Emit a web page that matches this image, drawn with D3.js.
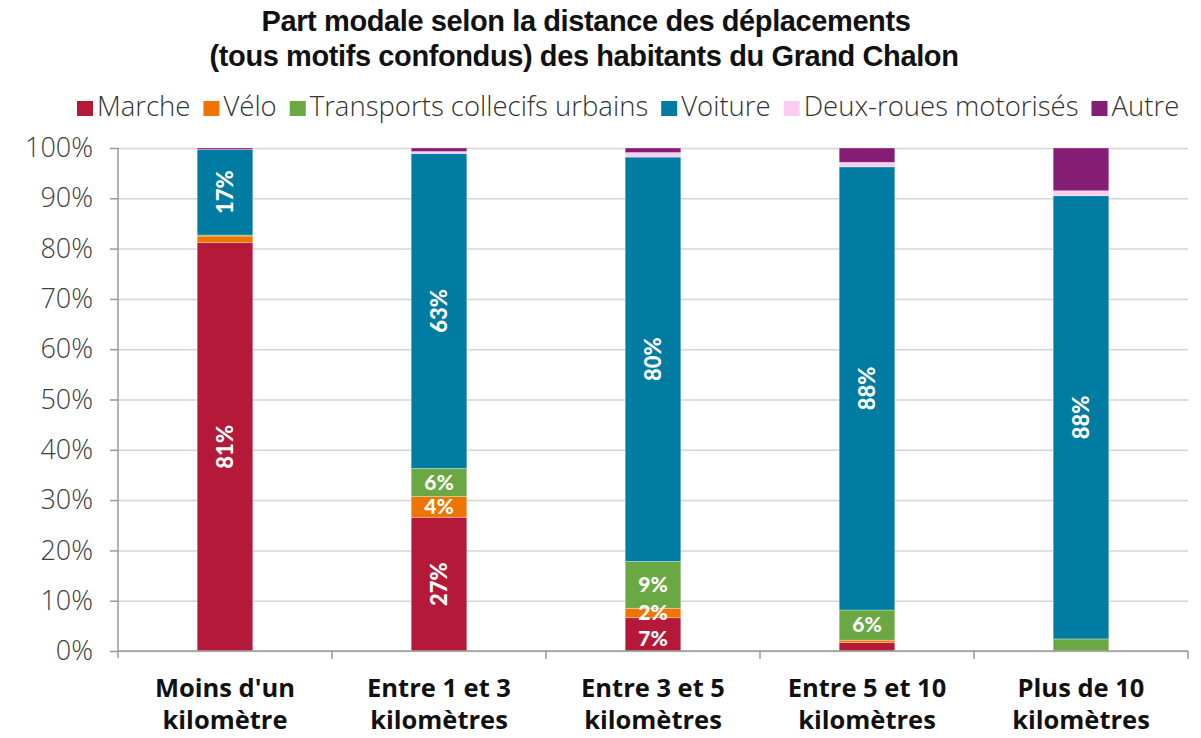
<!DOCTYPE html>
<html>
<head>
<meta charset="utf-8">
<script src="https://cdn.jsdelivr.net/npm/d3@7"></script>
<style>
  body { margin: 0; background: #fff; }
  svg { display: block; }
  .title { font-family: "Liberation Sans", sans-serif; font-weight: bold; font-size: 29px; fill: #111; letter-spacing: -0.4px; }
  .legend text { font-family: "Open Sans", sans-serif; font-weight: 300; font-size: 27.5px; fill: #333; }
  .y.axis text { font-family: "Open Sans", sans-serif; font-size: 27px; fill: #404040; font-weight: 300; }
  .cat { font-family: "Open Sans", sans-serif; font-weight: bold; font-size: 25.5px; fill: #111; }
  .val { font-family: "Lato", sans-serif; font-weight: 900; font-size: 22px; fill: #fff; }
  .val.small { font-size: 21px; }
</style>
</head>
<body>
<svg width="1201" height="738"></svg>
<script>
// categories (distance classes), each on two lines
var categories = ["Moins d'un kilomètre", "Entre 1 et 3 kilomètres", "Entre 3 et 5 kilomètres",
                  "Entre 5 et 10 kilomètres", "Plus de 10 kilomètres"];
var catLines = [["Moins d'un", "kilomètre"], ["Entre 1 et 3", "kilomètres"], ["Entre 3 et 5", "kilomètres"],
                ["Entre 5 et 10", "kilomètres"], ["Plus de 10", "kilomètres"]];

var seriesNames = ["Marche", "Vélo", "Transports collecifs urbains", "Voiture", "Deux-roues motorisés", "Autre"];
var colors = ["#b5193a", "#f07400", "#6aa843", "#007ba1", "#f9cdf2", "#851c75"];

// shares in %
var marche    = [81.2, 26.6, 6.6, 1.65, 0];
var velo      = [1.3, 4.1, 1.9, 0.5, 0];
var tc        = [0.2, 5.6, 9.3, 6.0, 2.4];
var voiture   = [17.0, 62.6, 80.4, 88.1, 88.1];
var deuxRoues = [0, 0.4, 0.9, 0.9, 1.0];
var autre     = [0.3, 0.7, 0.9, 2.85, 8.5];

// data labels as shown on the chart ("" = no label)
var lblMarche  = ["81%", "27%", "7%", "", ""];
var lblVelo    = ["", "4%", "2%", "", ""];
var lblTc      = ["", "6%", "9%", "6%", ""];
var lblVoiture = ["17%", "63%", "80%", "88%", "88%"];

var yTicks = [0, 10, 20, 30, 40, 50, 60, 70, 80, 90, 100];

var allValues = [marche, velo, tc, voiture, deuxRoues, autre];
var allLabels = [lblMarche, lblVelo, lblTc, lblVoiture, ["", "", "", "", ""], ["", "", "", "", ""]];

var table = categories.map(function(c, i) {
    var row = {cat: c};
    seriesNames.forEach(function(s, j) { row[s] = allValues[j][i]; });
    return row;
});

var svg = d3.select("svg"),
    margin = {top: 148, right: 13, bottom: 87, left: 118},
    width = 1201 - margin.left - margin.right,
    height = 738 - margin.top - margin.bottom;

var x = d3.scaleBand().domain(categories).range([0, width]).paddingInner(0.74).paddingOuter(0.37),
    y = d3.scaleLinear().domain([0, 100]).range([height, 0]);

// title
svg.append("text").attr("class", "title").attr("text-anchor", "middle")
    .attr("x", 586).attr("y", 31).text("Part modale selon la distance des déplacements");
svg.append("text").attr("class", "title").attr("text-anchor", "middle")
    .attr("x", 584).attr("y", 66).text("(tous motifs confondus) des habitants du Grand Chalon");

// legend
var legend = svg.append("g").attr("class", "legend");
var lx = 77;
seriesNames.forEach(function(s, j) {
    legend.append("rect").attr("x", lx).attr("y", 101).attr("width", 16).attr("height", 15).attr("fill", colors[j]);
    var t = legend.append("text").attr("x", lx + 20).attr("y", 116).text(s);
    lx += 20 + t.node().getComputedTextLength() + 13;
});

var g = svg.append("g").attr("transform", "translate(" + margin.left + "," + margin.top + ")");

// grid
g.append("g")
    .call(d3.axisLeft(y).tickValues(yTicks).tickSize(-width).tickFormat(""))
    .call(function(s) {
        s.select(".domain").remove();
        s.selectAll("line").attr("stroke", "#d4d4d4").attr("stroke-width", 1.5);
    });

var stack = d3.stack().keys(seriesNames);
var layers = stack(table);

var layer = g.selectAll(".layer")
    .data(layers)
    .enter().append("g")
        .attr("class", "layer")
        .attr("fill", function(d, j) { return colors[j]; });

layer.selectAll("rect")
    .data(function(d) { return d; })
    .enter().append("rect")
        .attr("x", function(d) { return x(d.data.cat); })
        .attr("y", function(d) { return y(d[1]); })
        .attr("width", x.bandwidth())
        .attr("height", function(d) { return y(d[0]) - y(d[1]); })
        .attr("stroke", "#fff")
        .attr("stroke-opacity", 0.5)
        .attr("stroke-width", 0.6);

// value labels (tall segments get rotated labels)
layers.forEach(function(L, j) {
    L.forEach(function(d, i) {
        var txt = allLabels[j][i];
        if (!txt) return;
        var cx = x(d.data.cat) + x.bandwidth() / 2,
            cy = (y(d[0]) + y(d[1])) / 2;
        var big = allValues[j][i] >= 15;
        // keep a short label at the foot of the bar clear of the one above
        if (!big && d[0] === 0) cy = Math.max(cy, height - 12);
        g.append("text").attr("class", big ? "val" : "val small")
            .attr("text-anchor", "middle")
            .attr("dy", "0.35em")
            .attr("transform", "translate(" + cx + "," + cy + ")" + (big ? " rotate(-90)" : ""))
            .text(txt);
    });
});

// y axis
g.append("g")
    .attr("class", "y axis")
    .call(d3.axisLeft(y).tickValues(yTicks).tickSize(8).tickPadding(17)
        .tickFormat(function(d) { return d + "%"; }))
    .call(function(s) {
        s.select(".domain").attr("stroke", "#999").attr("stroke-width", 1.5).attr("d", "M0,0V" + (height + 7));
        s.selectAll("line").attr("stroke", "#999").attr("stroke-width", 1.5);
    });

// x axis with ticks between categories
var xa = g.append("g").attr("class", "x axis").attr("transform", "translate(0," + height + ")");
xa.append("line").attr("x1", 0).attr("x2", width).attr("stroke", "#999").attr("stroke-width", 1.5);
var bounds = categories.map(function(c, i) { return (i + 1) * x.step(); });
xa.selectAll(".tk").data(bounds).enter().append("line")
    .attr("x1", function(d) { return d; }).attr("x2", function(d) { return d; })
    .attr("y1", 0).attr("y2", 8).attr("stroke", "#999").attr("stroke-width", 1.5);

catLines.forEach(function(lines, i) {
    var cx = x(categories[i]) + x.bandwidth() / 2;
    lines.forEach(function(l, k) {
        xa.append("text").attr("class", "cat").attr("text-anchor", "middle")
            .attr("x", cx).attr("y", 46 + k * 32).text(l);
    });
});
</script>
</body>
</html>
